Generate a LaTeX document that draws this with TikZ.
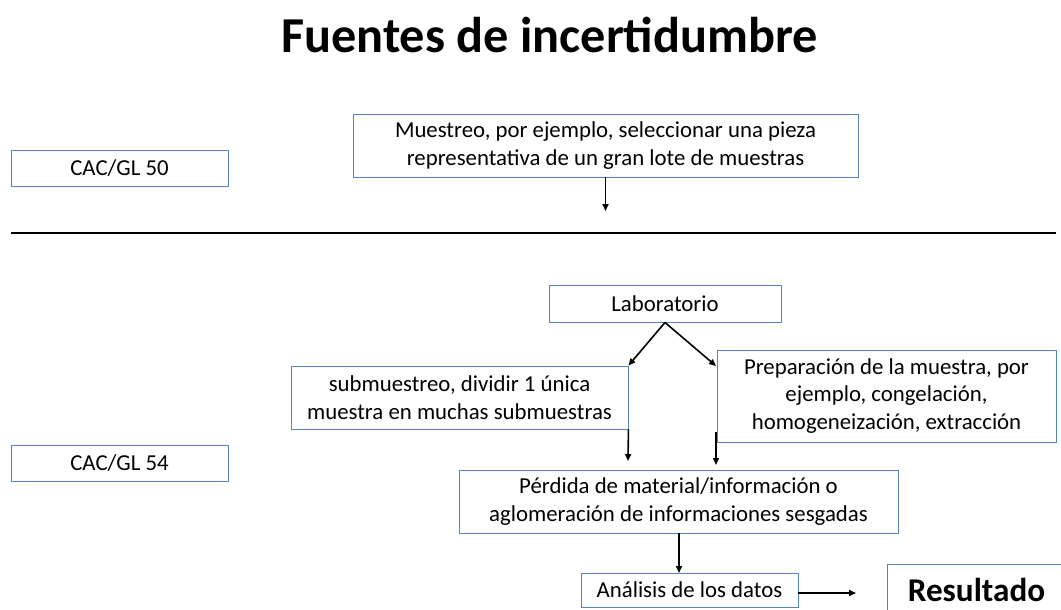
\documentclass[tikz,border=0pt]{standalone}
\usepackage{fontspec}
\setmainfont{Carlito}
\usetikzlibrary{arrows.meta}
\definecolor{boxblue}{RGB}{86,132,190}
\tikzset{
  box/.style={draw=boxblue, line width=0.9pt, fill=white, inner sep=0pt, align=center,
    font=\fontsize{22.8}{27.5}\selectfont},
  arr/.style={line width=1.6pt, -{Triangle[length=7pt,width=6pt]}},
}
\begin{document}
\begin{tikzpicture}[x=1pt,y=-1pt]
\clip (0,0) rectangle (1061,610);
\fill[white] (0,0) rectangle (1061,610);
\node[anchor=base, font=\fontsize{50.3}{58}\selectfont\bfseries] (title) at (549.5,53) {Fuentes de incertidumbre};
\node[box, minimum width=217pt, minimum height=36pt] (cac50) at (119.5,168) {CAC/GL 50};
\node[box, minimum width=505pt, minimum height=63pt] (muest) at (605.5,145.5) {Muestreo, por ejemplo, seleccionar una pieza\\representativa de un gran lote de muestras};
\coordinate (m1) at (605.5,211);
\draw[arr] (muest.south) -- (m1);
\coordinate (hl) at (11,233);
\coordinate (hr) at (1056,233);
\draw[line width=2.4pt] (hl) -- (hr);
\node[box, minimum width=232pt, minimum height=37pt] (lab) at (665,303.5) {Laboratorio};
\node[box, minimum width=337pt, minimum height=63pt] (sub) at (459.5,397.5) {submuestreo, dividir 1 única\\muestra en muchas submuestras};
\node[box, minimum width=339pt, minimum height=92pt] (prep) at (886.5,396) {Preparación de la muestra, por\\ejemplo, congelación,\\homogeneización, extracción};
\coordinate (p1) at (716,366);
\draw[arr] (lab.south) -- (sub.north east);
\draw[arr] (lab.south) -- (p1);
\node[box, minimum width=439pt, minimum height=63pt] (perd) at (678.5,501.5) {Pérdida de material/información o\\aglomeración de informaciones sesgadas};
\coordinate (c1) at (628,461);
\coordinate (c2s) at (716,432);
\coordinate (c2) at (716,465);
\draw[arr] (sub.south east) -- (c1);
\draw[arr] (c2s) -- (c2);
\node[box, minimum width=217pt, minimum height=34pt] (anal) at (689.5,590) {Análisis de los datos};
\draw[arr] (perd.south -| 679,0) -- (679,573);
\node[box, minimum width=179pt, minimum height=52pt, font=\fontsize{33.2}{40}\selectfont\bfseries] (res) at (976.5,590) {Resultado};
\coordinate (a1) at (856,593);
\draw[arr] (anal.east |- a1) -- (a1);
\node[box, minimum width=217pt, minimum height=36pt] (cac54) at (119.5,463) {CAC/GL 54};
\end{tikzpicture}
\end{document}
